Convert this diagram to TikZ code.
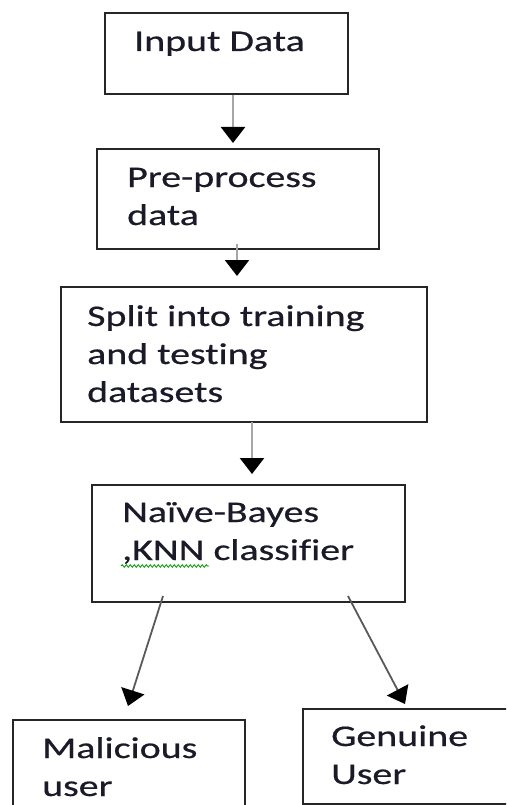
\documentclass[tikz,border=0pt]{standalone}
\usepackage{fontspec}
\setmainfont{Carlito}[FakeStretch=1.33,FakeBold=0.6,Ligatures=NoCommon]
\usetikzlibrary{arrows.meta,calc}
\usetikzlibrary{decorations,decorations.pathmorphing}
\usetikzlibrary{positioning,shapes}
\definecolor{ink}{HTML}{1A1A28}
\tikzstyle{block}=[draw=black!85,line width=2pt,inner sep=0pt]
\tikzstyle{txt}=[anchor=base west,inner sep=0pt,align=left,text=ink,
  font=\fontsize{30}{38}\selectfont]
\tikzstyle{flow}=[line width=2.4pt,draw=black!35,
  -{Triangle[width=24pt,length=16pt,color=black]}]
\tikzstyle{branch}=[line width=1.8pt,draw=black!65,
  -{Triangle[width=24pt,length=16pt,color=black]}]

\begin{document}
\begin{tikzpicture}[x=1pt,y=-1pt]
  \useasboundingbox (0,0) rectangle (506,805);
  \clip (0,0) rectangle (506,805);

  \coordinate (cin) at (226.5,53.5);
  \coordinate (cpre) at (238,199);
  \coordinate (csplit) at (244,354.5);
  \coordinate (ccls) at (248.5,543.5);
  \coordinate (cmal) at (129,775);
  \coordinate (cgen) at (411.5,756.5);

  % boxes
  \node[block,minimum width=243pt,minimum height=81pt] (nin) at (cin) {};
  \node[block,minimum width=282pt,minimum height=100pt] (npre) at (cpre) {};
  \node[block,minimum width=366pt,minimum height=135pt] (nsplit) at (csplit) {};
  \node[block,minimum width=313pt,minimum height=117pt] (ncls) at (ccls) {};
  \node[block,minimum width=232pt,minimum height=110pt] (nmal) at (cmal) {};
  \node[block,minimum width=217pt,minimum height=95pt] (ngen) at (cgen) {};

  % texts (base anchor sits on the last line)
  \node[txt] (tin) at ($(nin.north west)+(30,39)$) {Input Data};
  \node[txt] (tpre) at ($(npre.north west)+(31,77)$) {Pre-process\\data};
  \node[txt] (tsplit) at ($(nsplit.north west)+(27,116)$)
  {Split into training\\and testing\\datasets};
  \node[txt] (tcls) at ($(ncls.north west)+(31,76)$)
  {Naïve-Bayes\\,KNN classifier};
  \node[txt] (tmal) at ($(nmal.north west)+(30,77)$) {Malicious\\user};
  \node[txt] (tgen) at ($(ngen.north west)+(29,76)$) {Genuine\\User};

  % spell check mark under ,KNN
  \coordinate (kin) at ($(ncls.north west)+(30,82)$);
  \draw[green!60!black,line width=0.8pt,decorate,
  decoration={snake,amplitude=1.3pt,segment length=4pt}] (kin) -- ++(88,0);

  % arrows
  \draw[flow,shorten >=5pt] ([xshift=6.5pt]nin.south) --
  ([xshift=6.5pt]nin.south |- npre.north);
  \draw[flow,shorten <=-6pt,shorten >=10pt] ([xshift=-1pt]npre.south) --
  ([xshift=-1pt]npre.south |- nsplit.north);
  \draw[flow,shorten <=-1pt,shorten >=10pt] ([xshift=8pt]nsplit.south) --
  ([xshift=8pt]nsplit.south |- ncls.north);
  \draw[branch] ($(ncls.south)+(-85.5,-7)$) -- ($(nmal.north)+(-1,-13)$);
  \draw[branch] ($(ncls.south)+(99.5,-7)$) -- ($(ngen.north)+(-6.5,-4)$);

\end{tikzpicture}
\end{document}
